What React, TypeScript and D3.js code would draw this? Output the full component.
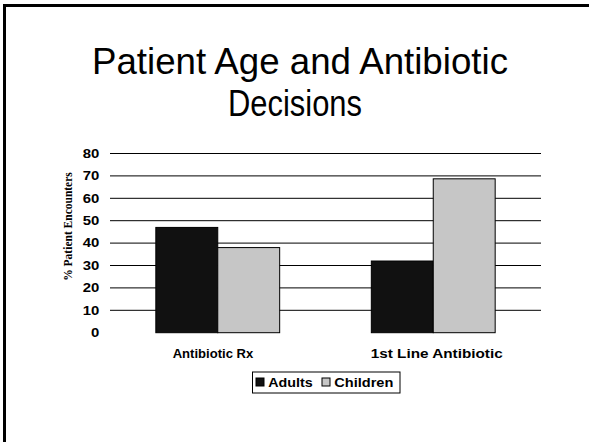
import React from "react";
import * as d3 from "d3";

const categories = ["Antibiotic Rx", "1st Line Antibiotic"];
const seriesNames = ["Adults", "Children"];
const adults = [47, 32];
const children = [38, 68.7];
const yTicks = [0, 10, 20, 30, 40, 50, 60, 70, 80];
const titleLines = ["Patient Age and Antibiotic", "Decisions"];
const yAxisTitle = "% Patient Encounters";

const W = 589;
const H = 442;
const colors = ["#111111", "#c6c6c6"];

const titleWidths = [416, 134];
const titleCenters = [300, 295];
const catWidths = [80.6, 132];
const catCenters = [213, 436.7];
const legendWidths = [44.4, 59];

export default function App() {
  const x = d3.scaleBand<string>().domain(categories).range([110, 541]).padding(0);
  const inner = d3
    .scaleBand<string>()
    .domain(seriesNames)
    .range([0, x.bandwidth()])
    .paddingOuter(0.74)
    .paddingInner(0);
  const y = d3.scaleLinear().domain([0, 80]).range([332.7, 153.5]);
  const values = [adults, children];
  const sans = "Arial, 'Liberation Sans', Helvetica, sans-serif";
  const serif = "'Times New Roman', 'Liberation Serif', Times, serif";

  return (
    <svg
      width={W}
      height={H}
      style={{ position: "absolute", left: 0, top: 0, background: "#fff" }}
    >
      <rect x={0} y={0} width={W} height={H} fill="#fff" />
      <rect x={4.5} y={5.5} width={W + 20} height={H + 20} fill="none" stroke="#000" strokeWidth={3} />
      {titleLines.map((t, i) => (
        <text
          key={t}
          x={titleCenters[i] - titleWidths[i] / 2}
          y={73.5 + i * 42}
          textLength={titleWidths[i]}
          lengthAdjust="spacingAndGlyphs"
          fontFamily={sans}
          fontSize={36}
          fill="#000"
        >
          {t}
        </text>
      ))}
      {yTicks
        .filter((t) => t > 0)
        .map((t) => (
          <line key={"g" + t} x1={110} x2={541} y1={y(t)} y2={y(t)} stroke="#000" strokeWidth={1} />
        ))}
      {yTicks.map((t) => {
        const w = String(t).length * 8.3;
        return (
          <text
            key={"t" + t}
            x={99.3 - w}
            y={y(t)}
            dy="0.36em"
            textLength={w}
            lengthAdjust="spacingAndGlyphs"
            fontFamily={sans}
            fontWeight="bold"
            fontSize={12}
            fill="#000"
          >
            {t}
          </text>
        );
      })}
      <text
        transform={`translate(72,226.5) rotate(-90)`}
        textAnchor="middle"
        fontFamily={serif}
        fontWeight="bold"
        fontSize={11.5}
        fill="#000"
      >
        {yAxisTitle}
      </text>
      {categories.map((c, ci) => (
        <g key={c}>
          <g transform={`translate(${x(c)},0)`}>
            {seriesNames.map((s, si) => (
              <rect
                key={s}
                x={inner(s)}
                y={y(values[si][ci])}
                width={inner.bandwidth()}
                height={y(0) - y(values[si][ci])}
                fill={colors[si]}
                stroke="#000"
                strokeWidth={1}
              />
            ))}
          </g>
          <text
            x={catCenters[ci] - catWidths[ci] / 2}
            y={358}
            textLength={catWidths[ci]}
            lengthAdjust="spacingAndGlyphs"
            fontFamily={sans}
            fontWeight="bold"
            fontSize={12.5}
            fill="#000"
          >
            {c}
          </text>
        </g>
      ))}
      <g>
        <rect x={252.5} y={372} width={147.5} height={21} fill="#fff" stroke="#000" strokeWidth={1} />
        {seriesNames.map((s, i) => {
          const sx = i === 0 ? 256 : 322;
          return (
            <g key={s}>
              <rect x={sx} y={378} width={8} height={8} fill={colors[i]} stroke="#000" strokeWidth={1} />
              <text
                x={sx + 12.3}
                y={386.7}
                textLength={legendWidths[i]}
                lengthAdjust="spacingAndGlyphs"
                fontFamily={sans}
                fontWeight="bold"
                fontSize={12.5}
                fill="#000"
              >
                {s}
              </text>
            </g>
          );
        })}
      </g>
    </svg>
  );
}
